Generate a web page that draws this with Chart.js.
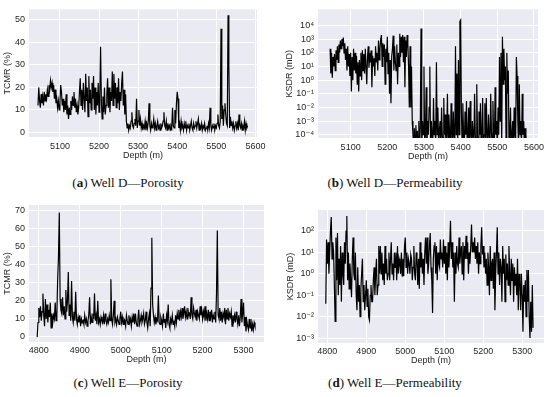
<!DOCTYPE html>
<html>
<head>
<meta charset="utf-8">
<script src="https://cdn.jsdelivr.net/npm/chart.js@4.4.0/dist/chart.umd.min.js"></script>
<style>
body{margin:0;background:#fff;}
#fig{position:relative;width:550px;height:397px;overflow:hidden;background:#fff;}
canvas{position:absolute;}
.cap{position:absolute;width:200px;text-align:center;font-family:"Liberation Serif","DejaVu Serif",serif;font-size:13px;line-height:15px;color:#111;white-space:nowrap;}
</style>
</head>
<body>
<div id="fig">
<canvas id="well_d_por" width="270" height="165" style="left:0px;top:0px"></canvas>
<canvas id="well_d_perm" width="275" height="165" style="left:275px;top:0px"></canvas>
<canvas id="well_e_por" width="275" height="172" style="left:0px;top:195px"></canvas>
<canvas id="well_e_perm" width="275" height="172" style="left:275px;top:195px"></canvas>
<div class="cap" style="left:28px;top:175px">(<b>a</b>) Well D—Porosity</div>
<div class="cap" style="left:295px;top:175px">(<b>b</b>) Well D—Permeability</div>
<div class="cap" style="left:28px;top:375px">(<b>c</b>) Well E—Porosity</div>
<div class="cap" style="left:295px;top:375px">(<b>d</b>) Well E—Permeability</div>
</div>
<script>
// depths (m), Well D
var depthD = [5044,5046,5048,5050,5052,5054,5056,5058,5060,5062,
    5064,5066,5068,5070,5072,5074,5076,5078,5080,5082,
    5084,5086,5088,5090,5092,5094,5096,5098,5100,5102,
    5104,5106,5108,5110,5112,5114,5116,5118,5120,5122,
    5124,5126,5128,5130,5132,5134,5136,5138,5140,5142,
    5144,5146,5148,5150,5152,5154,5156,5158,5160,5162,
    5164,5166,5168,5170,5172,5174,5176,5178,5180,5182,
    5184,5186,5188,5190,5192,5194,5196,5198,5200,5202,
    5204,5206,5208,5210,5212,5214,5216,5218,5220,5222,
    5224,5226,5228,5230,5232,5234,5236,5238,5240,5242,
    5244,5246,5248,5250,5252,5254,5256,5258,5260,5262,
    5264,5266,5268,5270,5272,5274,5276,5278,5280,5282,
    5284,5286,5288,5290,5292,5294,5296,5298,5300,5302,
    5304,5306,5308,5310,5312,5314,5316,5318,5320,5322,
    5324,5326,5328,5330,5332,5334,5336,5338,5340,5342,
    5344,5346,5348,5350,5352,5354,5356,5358,5360,5362,
    5364,5366,5368,5370,5372,5374,5376,5378,5380,5382,
    5384,5386,5388,5390,5392,5394,5396,5398,5400,5402,
    5404,5406,5408,5410,5412,5414,5416,5418,5420,5422,
    5424,5426,5428,5430,5432,5434,5436,5438,5440,5442,
    5444,5446,5448,5450,5452,5454,5456,5458,5460,5462,
    5464,5466,5468,5470,5472,5474,5476,5478,5480,5482,
    5484,5486,5488,5490,5492,5494,5496,5498,5500,5502,
    5504,5506,5508,5510,5512,5514,5516,5518,5520,5522,
    5524,5526,5528,5530,5532,5534,5536,5538,5540,5542,
    5544,5546,5548,5550,5552,5554,5556,5558,5560,5562,
    5564,5566,5568,5570,5572,5574,5576,5578,5580];

// depths (m), Well E
var depthE = [4796,4798,4800,4802,4804,4806,4808,4810,4812,4814,
    4816,4818,4820,4822,4824,4826,4828,4830,4832,4834,
    4836,4838,4840,4842,4844,4846,4848,4850,4852,4854,
    4856,4858,4860,4862,4864,4866,4868,4870,4872,4874,
    4876,4878,4880,4882,4884,4886,4888,4890,4892,4894,
    4896,4898,4900,4902,4904,4906,4908,4910,4912,4914,
    4916,4918,4920,4922,4924,4926,4928,4930,4932,4934,
    4936,4938,4940,4942,4944,4946,4948,4950,4952,4954,
    4956,4958,4960,4962,4964,4966,4968,4970,4972,4974,
    4976,4978,4980,4982,4984,4986,4988,4990,4992,4994,
    4996,4998,5000,5002,5004,5006,5008,5010,5012,5014,
    5016,5018,5020,5022,5024,5026,5028,5030,5032,5034,
    5036,5038,5040,5042,5044,5046,5048,5050,5052,5054,
    5056,5058,5060,5062,5064,5066,5068,5070,5072,5074,
    5076,5078,5080,5082,5084,5086,5088,5090,5092,5094,
    5096,5098,5100,5102,5104,5106,5108,5110,5112,5114,
    5116,5118,5120,5122,5124,5126,5128,5130,5132,5134,
    5136,5138,5140,5142,5144,5146,5148,5150,5152,5154,
    5156,5158,5160,5162,5164,5166,5168,5170,5172,5174,
    5176,5178,5180,5182,5184,5186,5188,5190,5192,5194,
    5196,5198,5200,5202,5204,5206,5208,5210,5212,5214,
    5216,5218,5220,5222,5224,5226,5228,5230,5232,5234,
    5236,5238,5240,5242,5244,5246,5248,5250,5252,5254,
    5256,5258,5260,5262,5264,5266,5268,5270,5272,5274,
    5276,5278,5280,5282,5284,5286,5288,5290,5292,5294,
    5296,5298,5300,5302,5304,5306,5308,5310,5312,5314,
    5316,5318,5320,5322,5324,5326,5328];

// Well D TCMR (%)
var porosityD = [12,20,14,11,17,13,16,12,18,14,
    17,15,19,16,21,19,23,20,22,18,
    21,15,19,13,15,11,14,10,13,21,
    18,12,15,9,14,10,17,8,12,6,
    11,8,14,10,16,12,18,11,15,9,
    12,8,11,18,24,12,19,10,22,15,
    9,26,14,20,7,25,13,19,10,22,
    15,25,10,20,8,18,12,22,9,16,
    38,14,6,16,9,20,8,12,17,24,
    11,20,9,18,14,27,12,26,15,22,
    11,20,13,24,10,18,14,22,27,12,
    19,8,17,5,2,4,1,3,2,5,
    9,3,2,4,6,3,15,2,5,10,
    3,6,2,4,1,3,2,5,1,4,
    2,5,13,3,1,4,2,3,6,2,
    4,1,3,5,2,3,1,4,2,3,
    5,9,3,2,5,1,4,2,3,1,
    3,2,11,3,2,10,4,13,18,15,
    2,4,1,5,2,3,1,4,2,5,
    1,3,2,4,1,3,5,2,1,4,
    2,3,5,2,4,6,1,3,2,4,
    1,3,2,4,1,2,3,1,4,2,
    11,3,1,3,2,4,1,3,2,4,
    8,3,2,5,46,6,12,3,10,13,
    8,4,3,52,30,2,7,3,5,2,
    4,1,3,5,2,4,1,8,3,2,
    4,1,3,2,5,1,4,2,3];

// Well D KSDR (mD)
var permD = [200,3,100,1.5,50,10,80,5,150,30,
    300,20,400,100,800,200,1000,300,1300,100,
    500,30,200,5,300,10,80,2,100,0.15,
    50,1,200,5,100,3,60,0.5,20,0.15,
    30,2,100,1,150,5,80,3,200,10,
    0.5,50,300,8,100,20,150,0.3,60,10,
    40,2,300,20,100,5,800,30,200,1000,
    2000,10,500,50,400,0.5,200,20,1500,3,
    100,0.1,30,0.02,50,200,1800,5,300,20,
    5,400,0.5,100,10,2500,50,1500,100,2000,
    20,1500,0.3,800,50,2000,500,10,0.01,300,
    0.01,10,1e-3,1e-4,1e-5,3e-4,1e-5,5e-4,1e-5,2e-4,
    1e-5,1e-3,1e-5,3e-4,6000,1e-5,1e-3,1e-4,10,1e-5,
    1e-4,0.3,1e-5,1e-3,1e-4,0.01,10,1e-5,1e-3,1e-4,
    1e-5,0.05,1e-4,1e-3,1e-5,20,1e-4,0.01,1e-5,2e-4,
    1e-3,1e-5,0.01,1e-4,1e-5,0.05,1e-4,3e-3,1e-5,1e-4,
    0.1,1e-5,3e-3,1e-4,1e-5,0.02,1e-4,1e-5,5e-3,1e-4,
    1e-5,300,1e-4,3,1e-5,30,1e-4,20000,25000,0.01,
    1e-5,0.02,1e-4,1e-5,5e-3,1e-4,0.03,1e-5,1e-4,0.01,
    1e-5,0.03,1e-4,1e-5,1e-3,1e-4,1e-5,0.1,1e-4,1e-5,
    0.5,1e-4,1e-5,5e-3,1e-4,0.02,1e-5,1e-4,0.05,1e-5,
    1e-4,0.02,1e-5,0.05,1e-4,1e-5,3e-3,1e-4,1e-5,0.1,
    2e-4,1e-5,0.03,1e-4,1e-5,0.3,1e-4,1e-3,1e-5,0.01,
    1e-4,50,1e-3,100,1e-5,1500,0.5,200,1,10,
    1e-5,100,0.1,5,1e-5,1e-4,0.01,1e-5,1e-4,1e-3,
    1e-5,0.01,1e-4,1e-5,50,2,1e-3,1e-5,0.5,1e-4,
    1e-3,1e-5,0.1,1e-4,1e-3,1e-5,3e-4,1e-4,1e-5];

// Well E TCMR (%)
var porosityE = [0,8,16,11,17,9,14,24,12,6,
    21,10,18,8,15,11,19,5,13,8,
    12,10,19,9,12,32,44,69,21,15,
    13,22,12,17,10,26,14,20,36,12,
    18,9,31,11,8,14,9,25,10,7,
    11,8,12,6,10,8,9,7,12,8,
    10,6,9,12,22,7,11,8,13,10,
    24,9,12,7,20,8,10,7,11,9,
    8,12,7,13,9,7,10,8,12,9,
    32,10,7,12,20,8,10,7,11,9,
    7,10,14,8,11,7,10,9,6,12,
    9,7,12,8,10,6,11,8,13,7,
    13,8,6,10,15,7,9,12,8,10,
    13,7,9,14,8,5,10,13,6,27,
    55,18,12,8,11,7,10,9,23,8,
    7,11,9,6,13,8,10,5,12,9,
    18,7,5,10,8,12,7,9,6,12,
    8,13,10,15,9,14,11,16,10,13,
    17,11,14,10,16,12,13,10,22,12,
    10,16,13,11,15,9,14,12,10,17,
    12,15,10,14,11,17,9,13,10,15,
    9,14,11,15,8,12,10,14,8,24,
    59,12,10,16,9,14,8,13,11,16,
    7,15,10,16,9,13,11,14,6,12,
    9,12,8,14,10,7,12,6,11,21,
    8,13,19,6,11,3,9,6,4,10,
    5,10,3,7,4,8,6];

// Well E KSDR (mD)
var permE = [0.04,40,3,30,1,10,100,450,5,30,
    10,0.3,0.006,50,0.5,80,0.1,5,0.3,20,
    0.05,10,1,0.3,30,3,100,500,0.5,10,
    0.2,3,0.5,0.08,5,50,1,0.5,10,0.1,
    0.02,2,0.05,0.3,0.01,0.2,1,5,0.05,0.3,
    0.02,0.1,0.5,0.03,0.2,0.01,0.007,0.1,0.3,0.05,
    0.05,0.5,2,0.1,1,5,0.1,0.3,20,1,
    20,1,10,0.5,3,0.3,20,1,5,0.5,
    1,10,0.5,5,30,1,3,0.5,10,2,
    10,0.5,20,1,5,3,1,10,0.8,5,
    0.8,20,50,2,10,1,5,3,1,8,
    5,0.5,2,20,1,0.5,10,5,0.3,5,
    0.2,30,2,10,1,5,0.3,10,50,3,
    50,1,3,20,80,2,0.5,0.015,5,20,
    30,1,20,0.5,10,3,2,40,5,10,
    2,40,3,20,1,10,0.5,30,2,20,
    300,5,30,2,10,0.05,10,1,20,3,
    2,50,3,10,20,1,30,0.5,20,5,
    60,5,30,1,10,3,20,200,10,30,
    10,50,5,20,3,30,1,10,3,20,
    150,8,20,2,10,1,5,0.3,10,2,
    0.1,20,0.5,3,5,0.2,10,0.02,1,10,
    150,1,10,0.3,5,2,0.05,20,1,5,
    0.05,8,0.5,3,0.3,20,1,0.1,5,0.5,
    3,0.05,2,0.3,1,0.1,5,0.02,1,0.5,
    0.02,1,0.1,0.002,0.3,0.05,0.5,0.01,1.5,0.05,
    1.5,0.01,0.001,0.05,0.002,0.3,0.003];

// tick values and labels
var depthTicksD = [5100,5200,5300,5400,5500,5600];
var depthTicksE = [4800,4900,5000,5100,5200,5300];
var porTicksD = [0,10,20,30,40,50];
var porTicksE = [0,10,20,30,40,50,60,70];
var permTicksD = [1e-4,1e-3,1e-2,1e-1,1,10,100,1000,10000];
var permLabelsD = ['10⁻⁴','10⁻³','10⁻²','10⁻¹','10⁰','10¹','10²','10³','10⁴'];
var permTicksE = [1e-3,1e-2,1e-1,1,10,100];
var permLabelsE = ['10⁻³','10⁻²','10⁻¹','10⁰','10¹','10²'];

var FONT = "'Liberation Sans', 'DejaVu Sans', sans-serif";
var INK = '#262626';

// seaborn style background
var darkgrid = {
    id: 'darkgrid',
    beforeDraw: function(chart) {
        var a = chart.chartArea, c = chart.ctx;
        c.save();
        c.fillStyle = '#EAEAF2';
        c.fillRect(a.left, a.top, a.right - a.left, a.bottom - a.top);
        c.restore();
    }
};

function logPlot(id, depths, values, o) {
    var pts = depths.map(function(d, i) { return {x: d, y: values[i]}; });
    return new Chart(document.getElementById(id).getContext('2d'), {
        type: 'line',
        data: {
            datasets: [{
                data: pts,
                borderColor: '#000',
                borderWidth: 1.2,
                pointRadius: 0,
                tension: 0
            }]
        },
        options: {
            responsive: false,
            animation: false,
            events: [],
            layout: {padding: o.pad},
            plugins: {legend: {display: false}, tooltip: {enabled: false}},
            scales: {
                x: {
                    type: 'linear',
                    min: o.xMin,
                    max: o.xMax,
                    afterBuildTicks: function(s) { s.ticks = o.xTicks.map(function(v) { return {value: v}; }); },
                    afterFit: function(s) { s.height = o.xH; },
                    grid: {color: '#fff', lineWidth: 1, drawTicks: false},
                    border: {display: false},
                    ticks: {
                        autoSkip: false, maxRotation: 0, padding: o.xPad,
                        color: INK, font: {family: FONT, size: 9},
                        callback: function(v) { return String(v); }
                    },
                    title: {display: true, text: 'Depth (m)', color: INK, font: {family: FONT, size: 9}, padding: 0}
                },
                y: {
                    type: o.yType,
                    min: o.yMin,
                    max: o.yMax,
                    afterBuildTicks: function(s) { s.ticks = o.yTicks.map(function(v) { return {value: v}; }); },
                    afterFit: function(s) { s.width = o.yW; },
                    grid: {color: '#fff', lineWidth: 1, drawTicks: false},
                    border: {display: false},
                    ticks: {
                        autoSkip: false, padding: 4,
                        color: INK, font: {family: FONT, size: 9},
                        callback: function(v, i) { return o.yLabels ? o.yLabels[i] : String(v); }
                    },
                    title: {display: true, text: o.yTitle, color: INK, font: {family: FONT, size: 9}, padding: 0}
                }
            }
        },
        plugins: [darkgrid]
    });
}

// (a) Well D porosity
logPlot('well_d_por', depthD, porosityD, {
    pad: {left: 2, top: 5, right: 13, bottom: 4}, yW: 27, xH: 24, xPad: 4,
    xMin: 5021, xMax: 5604, xTicks: depthTicksD,
    yType: 'linear', yMin: -2, yMax: 54.6, yTicks: porTicksD, yTitle: 'TCMR (%)'
});

// (b) Well D permeability
logPlot('well_d_perm', depthD, permD, {
    pad: {left: 9, top: 5, right: 12, bottom: 3}, yW: 34, xH: 24, xPad: 4,
    xMin: 5011, xMax: 5611, xTicks: depthTicksD,
    yType: 'logarithmic', yMin: 5.8e-5, yMax: 1.5e5, yTicks: permTicksD, yLabels: permLabelsD, yTitle: 'KSDR (mD)'
});

// (c) Well E porosity
logPlot('well_e_por', depthE, porosityE, {
    pad: {left: 2, top: 10, right: 11, bottom: 2}, yW: 27, xH: 23, xPad: 3,
    xMin: 4776, xMax: 5350, xTicks: depthTicksE,
    yType: 'linear', yMin: -2.8, yMax: 73.1, yTicks: porTicksE, yTitle: 'TCMR (%)'
});

// (d) Well E permeability
logPlot('well_e_perm', depthE, permE, {
    pad: {left: 10, top: 15, right: 6, bottom: 1}, yW: 33, xH: 23, xPad: 3,
    xMin: 4776, xMax: 5356, xTicks: depthTicksE,
    yType: 'logarithmic', yMin: 5.9e-4, yMax: 955, yTicks: permTicksE, yLabels: permLabelsE, yTitle: 'KSDR (mD)'
});
</script>
</body>
</html>
